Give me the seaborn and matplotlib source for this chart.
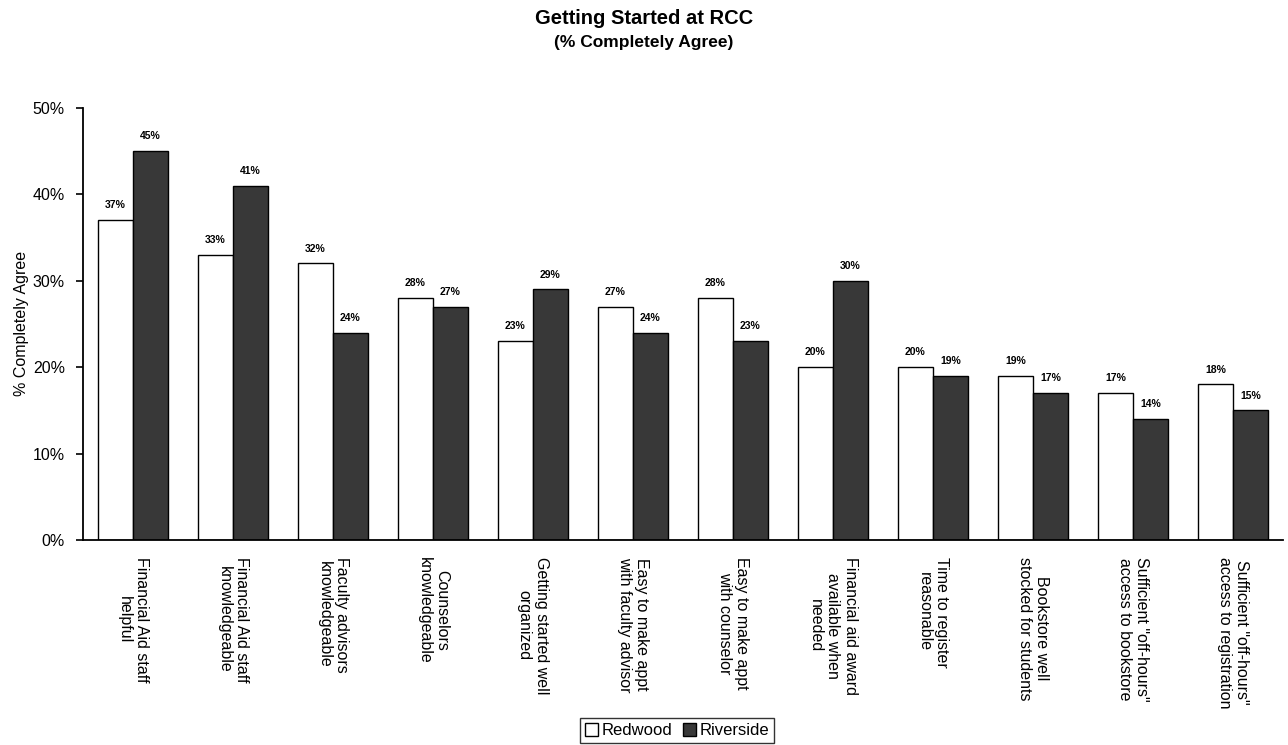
import seaborn as sns
import pandas as pd
import numpy as np
import matplotlib.pyplot as plt
from matplotlib.ticker import PercentFormatter

categories = ['Financial Aid staff\nhelpful',
              'Financial Aid staff\nknowledgeable',
              'Faculty advisors\nknowledgeable',
              'Counselors\nknowledgeable',
              'Getting started well\norganized',
              'Easy to make appt\nwith faculty advisor',
              'Easy to make appt\nwith counselor',
              'Financial aid award\navailable when\nneeded',
              'Time to register\nreasonable',
              'Bookstore well\nstocked for students',
              'Sufficient "off-hours"\naccess to bookstore',
              'Sufficient "off-hours"\naccess to registration']
redwood = [37, 33, 32, 28, 23, 27, 28, 20, 20, 19, 17, 18]
riverside = [45, 41, 24, 27, 29, 24, 23, 30, 19, 17, 14, 15]
campuses = ['Redwood', 'Riverside']

df = pd.DataFrame({
    'item': categories * 2,
    'campus': ['Redwood'] * len(categories) + ['Riverside'] * len(categories),
    'pct': redwood + riverside,
})

sns.set_style('white')
plt.rcParams['font.family'] = ['Liberation Sans', 'DejaVu Sans']
plt.rcParams['text.color'] = 'black'
plt.rcParams['axes.labelcolor'] = 'black'
plt.rcParams['xtick.color'] = 'black'
plt.rcParams['ytick.color'] = 'black'

fig = plt.figure(figsize=(12.88, 7.45), dpi=100)
ax = fig.add_axes([0.0644, 0.2752, 0.9317, 0.580])

sns.barplot(data=df, x='item', y='pct', hue='campus', hue_order=campuses,
            palette={'Redwood': 'white', 'Riverside': '#383838'},
            edgecolor='black', linewidth=1, width=0.70, saturation=1,
            errorbar=None, ax=ax)

for cont in ax.containers:
    ax.bar_label(cont, labels=[f'{v:.0f}%' for v in cont.datavalues],
                 padding=7, fontsize=7.5, fontweight='bold')

ax.set_ylim(0, 50)
ax.set_yticks(np.arange(0, 51, 10))
ax.yaxis.set_major_formatter(PercentFormatter(decimals=0))
ax.tick_params(axis='y', labelsize=11.5, length=5, width=1.2,
               direction='out', left=True, pad=8)
ax.tick_params(axis='x', length=0, pad=12)
ax.set_xticks(range(len(categories)))
ax.set_xticklabels(categories, rotation=270, fontsize=11.5, ha='center',
                   va='top', multialignment='center')
ax.set_xlabel('')
ax.set_ylabel('% Completely Agree', fontsize=11.5)
ax.yaxis.set_label_coords(-0.045, 0.5)
ax.set_xlim(-0.5, len(categories) - 0.5)

for s in ['top', 'right']:
    ax.spines[s].set_visible(False)
for s in ['left', 'bottom']:
    ax.spines[s].set_color('black')
    ax.spines[s].set_linewidth(1.3)

leg = ax.legend(loc='lower center', bbox_to_anchor=(0.495, -0.49), ncol=2,
                frameon=True, fancybox=False, edgecolor='black', fontsize=12,
                handlelength=0.8, handleheight=0.8, handletextpad=0.2,
                columnspacing=0.6, borderpad=0.3)
leg.get_frame().set_linewidth(1)

fig.text(0.5, 0.975, 'Getting Started at RCC', ha='center', va='center',
         fontsize=14.5, fontweight='bold')
fig.text(0.5, 0.943, '(% Completely Agree)', ha='center', va='center',
         fontsize=12.5, fontweight='bold')

fig.savefig('out.png', dpi=100)
